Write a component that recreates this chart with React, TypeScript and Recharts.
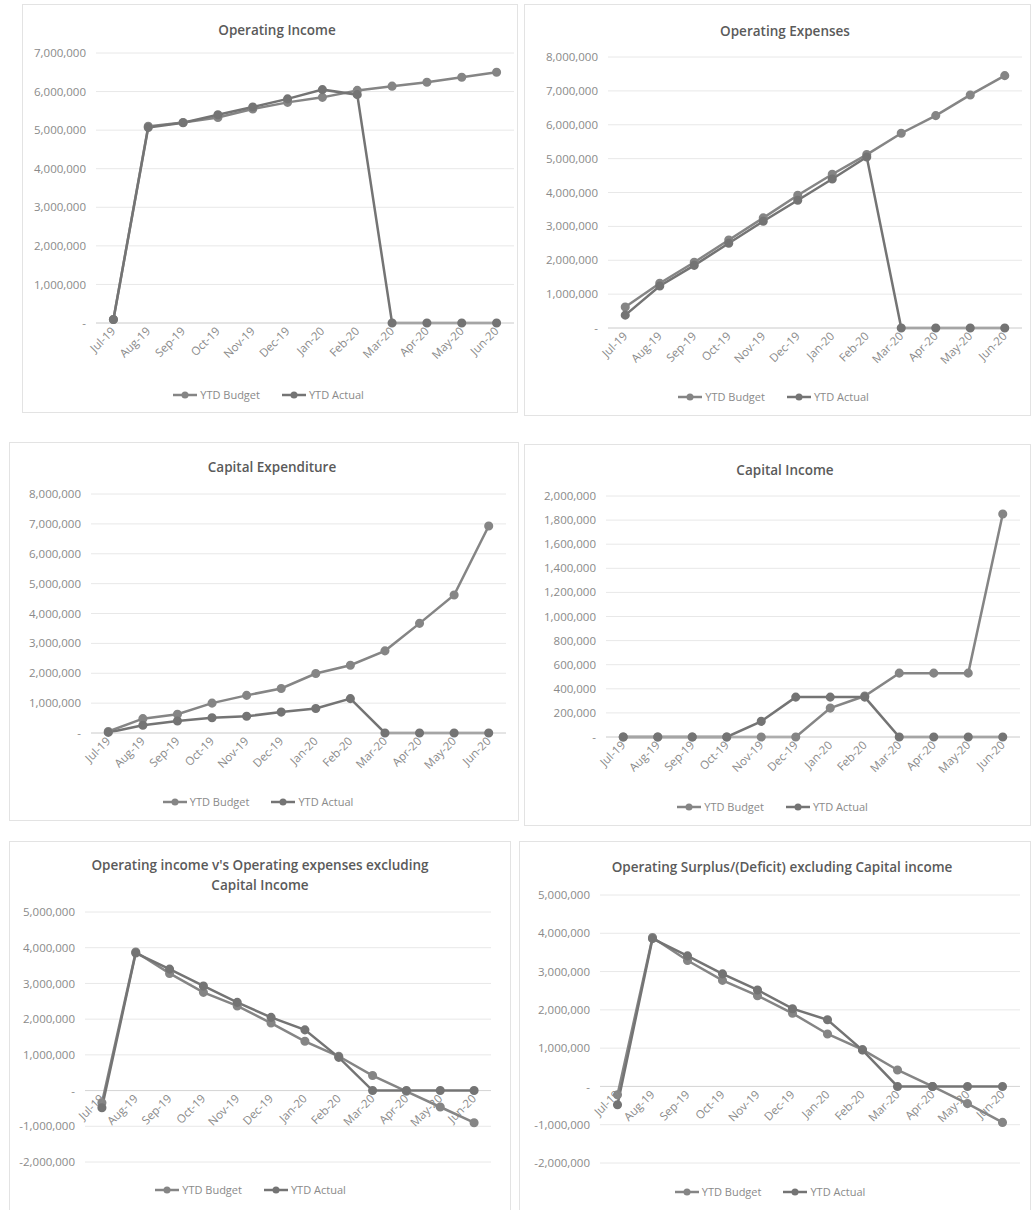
import React from 'react'
import { LineChart, Line, XAxis, YAxis, CartesianGrid, Legend, ReferenceLine } from 'recharts'

const months = ['Jul-19', 'Aug-19', 'Sep-19', 'Oct-19', 'Nov-19', 'Dec-19', 'Jan-20', 'Feb-20', 'Mar-20', 'Apr-20', 'May-20', 'Jun-20']

const opIncomeBudget = [90000, 5100000, 5200000, 5330000, 5550000, 5720000, 5850000, 6030000, 6140000, 6240000, 6370000, 6500000]
const opIncomeActual = [90000, 5070000, 5190000, 5400000, 5600000, 5810000, 6050000, 5920000, 0, 0, 0, 0]

const opExpBudget = [620000, 1320000, 1940000, 2600000, 3250000, 3920000, 4540000, 5120000, 5750000, 6270000, 6880000, 7450000]
const opExpActual = [380000, 1240000, 1850000, 2500000, 3150000, 3770000, 4400000, 5050000, 0, 0, 0, 0]

const capExBudget = [50000, 480000, 630000, 1000000, 1260000, 1490000, 1990000, 2270000, 2750000, 3670000, 4620000, 6930000]
const capExActual = [20000, 260000, 400000, 510000, 560000, 700000, 820000, 1150000, 0, 0, 0, 0]

const capIncBudget = [0, 0, 0, 0, 0, 0, 240000, 340000, 530000, 530000, 530000, 1850000]
const capIncActual = [0, 0, 0, 0, 130000, 331000, 331000, 331000, 0, 0, 0, 0]

const opVsBudget = [-340000, 3880000, 3280000, 2750000, 2370000, 1890000, 1380000, 960000, 420000, -20000, -460000, -900000]
const opVsActual = [-480000, 3850000, 3400000, 2930000, 2470000, 2050000, 1700000, 930000, 0, 0, 0, 0]

const surplusBudget = [-220000, 3890000, 3290000, 2770000, 2370000, 1910000, 1370000, 960000, 430000, 0, -450000, -940000]
const surplusActual = [-480000, 3860000, 3410000, 2940000, 2520000, 2030000, 1740000, 950000, 0, 0, 0, 0]

const ticks7M = [0, 1000000, 2000000, 3000000, 4000000, 5000000, 6000000, 7000000]
const ticks8M = [0, 1000000, 2000000, 3000000, 4000000, 5000000, 6000000, 7000000, 8000000]
const ticks2M = [0, 200000, 400000, 600000, 800000, 1000000, 1200000, 1400000, 1600000, 1800000, 2000000]
const ticksNeg = [-2000000, -1000000, 0, 1000000, 2000000, 3000000, 4000000, 5000000]

const BUDGET = '#858585'
const ACTUAL = '#747474'
const TEXT = '#8a8a8a'

const fmt = (v: number) => (v === 0 ? '-' : v.toLocaleString('en-US'))

type Box = { x: number; y: number; w: number; h: number }
type Plot = { l: number; r: number; t: number; b: number }

function MonthTick(props: any) {
  const { x, y, payload, shift } = props
  return (
    <g transform={`translate(${x},${y - shift})`}>
      <text x={0} y={0} dy={4} textAnchor="end" fill={TEXT} fontSize={11.5} transform="rotate(-45)">
        {payload.value}
      </text>
    </g>
  )
}

// legend in Excel style: line with a filled marker, series in plotting order
function ExcelLegend(props: any) {
  const items = [...(props.payload || [])].sort((a: any, b: any) =>
    a.value === 'YTD Budget' ? -1 : b.value === 'YTD Budget' ? 1 : 0,
  )
  return (
    <div style={{ display: 'flex', justifyContent: 'center', gap: 22, fontSize: 11, lineHeight: '16px', color: TEXT }}>
      {items.map((it: any) => (
        <span key={it.value} style={{ display: 'inline-flex', alignItems: 'center', gap: 3 }}>
          <svg width={24} height={10}>
            <line x1={0} y1={5} x2={24} y2={5} stroke={it.color} strokeWidth={2.5} />
            <circle cx={12} cy={5} r={3.5} fill={it.color} />
          </svg>
          {it.value}
        </span>
      ))}
    </div>
  )
}

interface PanelProps {
  box: Box
  plot: Plot
  title: string[]
  titleX: number
  titleY: number
  legendY: number
  budget: number[]
  actual: number[]
  domain: [number, number]
  ticks: number[]
}

function Panel({ box, plot, title, titleX, titleY, legendY, budget, actual, domain, ticks }: PanelProps) {
  const legendH = 16
  const top = plot.t - box.y
  const right = box.x + box.w - plot.r
  const yAxisW = plot.l - box.x
  const bottom = box.h - (legendY - box.y) - legendH / 2
  const xAxisH = box.y + box.h - plot.b - bottom - legendH
  const shift = domain[0] < 0 ? ((plot.b - plot.t) * -domain[0]) / (domain[1] - domain[0]) : 0
  const half = (plot.r - plot.l) / months.length / 2
  const data = months.map((m, i) => ({ month: m, budget: budget[i], actual: actual[i] }))

  return (
    <>
      <div
        style={{
          position: 'absolute',
          left: box.x,
          top: box.y,
          width: box.w,
          height: box.h,
          outline: '1px solid #e3e3e3',
        }}
      >
        <LineChart width={box.w} height={box.h} data={data} margin={{ top, right, left: 0, bottom }}>
          <CartesianGrid vertical={false} stroke="#e8e8e8" />
          <XAxis
            dataKey="month"
            interval={0}
            height={xAxisH}
            padding={{ left: half, right: half }}
            axisLine={domain[0] < 0 ? false : { stroke: '#d6d6d6' }}
            tickLine={false}
            tickSize={0}
            tickMargin={6}
            tick={(p: any) => <MonthTick {...p} shift={shift} />}
          />
          <YAxis
            width={yAxisW}
            domain={domain}
            ticks={ticks}
            interval={0}
            axisLine={false}
            tickLine={false}
            tickSize={0}
            tickMargin={10}
            tickFormatter={fmt}
            tick={{ fill: TEXT, fontSize: 11.5 }}
          />
          {domain[0] < 0 && <ReferenceLine y={0} stroke="#d6d6d6" />}
          <Legend verticalAlign="bottom" align="center" height={legendH} content={<ExcelLegend />} />
          <Line
            dataKey="budget"
            name="YTD Budget"
            stroke={BUDGET}
            strokeWidth={2.5}
            dot={{ r: 3.3, fill: BUDGET, stroke: BUDGET }}
            isAnimationActive={false}
          />
          <Line
            dataKey="actual"
            name="YTD Actual"
            stroke={ACTUAL}
            strokeWidth={2.5}
            dot={{ r: 3.3, fill: ACTUAL, stroke: ACTUAL }}
            isAnimationActive={false}
          />
        </LineChart>
      </div>
      <div
        style={{
          position: 'absolute',
          left: titleX - 300,
          top: titleY - 10,
          width: 600,
          textAlign: 'center',
          fontSize: 13.5,
          fontWeight: 600,
          lineHeight: '20px',
          color: '#5a5a5a',
        }}
      >
        {title.map((t) => (
          <div key={t}>{t}</div>
        ))}
      </div>
    </>
  )
}

export default function App() {
  return (
    <div
      style={{
        position: 'absolute',
        left: 0,
        top: 0,
        width: 1034,
        height: 1210,
        background: '#fff',
        overflow: 'hidden',
        fontFamily: "'Open Sans', sans-serif",
      }}
    >
      <Panel
        box={{ x: 23, y: 5, w: 494, h: 407 }}
        plot={{ l: 96, r: 514, t: 53, b: 323 }}
        title={['Operating Income']}
        titleX={277}
        titleY={30}
        legendY={395}
        budget={opIncomeBudget}
        actual={opIncomeActual}
        domain={[0, 7000000]}
        ticks={ticks7M}
      />
      <Panel
        box={{ x: 525, y: 5, w: 505, h: 410 }}
        plot={{ l: 608, r: 1022, t: 57, b: 328 }}
        title={['Operating Expenses']}
        titleX={785}
        titleY={31}
        legendY={397}
        budget={opExpBudget}
        actual={opExpActual}
        domain={[0, 8000000]}
        ticks={ticks8M}
      />
      <Panel
        box={{ x: 10, y: 443, w: 508, h: 377 }}
        plot={{ l: 91, r: 506, t: 494, b: 733 }}
        title={['Capital Expenditure']}
        titleX={272}
        titleY={467}
        legendY={802}
        budget={capExBudget}
        actual={capExActual}
        domain={[0, 8000000]}
        ticks={ticks8M}
      />
      <Panel
        box={{ x: 525, y: 445, w: 505, h: 380 }}
        plot={{ l: 606, r: 1020, t: 496, b: 737 }}
        title={['Capital Income']}
        titleX={785}
        titleY={470}
        legendY={807}
        budget={capIncBudget}
        actual={capIncActual}
        domain={[0, 2000000]}
        ticks={ticks2M}
      />
      <Panel
        box={{ x: 10, y: 842, w: 500, h: 368 }}
        plot={{ l: 85, r: 491, t: 912, b: 1162 }}
        title={["Operating income v's Operating expenses excluding", 'Capital Income']}
        titleX={260}
        titleY={865}
        legendY={1190}
        budget={opVsBudget}
        actual={opVsActual}
        domain={[-2000000, 5000000]}
        ticks={ticksNeg}
      />
      <Panel
        box={{ x: 520, y: 842, w: 510, h: 368 }}
        plot={{ l: 600, r: 1020, t: 895, b: 1163 }}
        title={['Operating Surplus/(Deficit) excluding Capital income']}
        titleX={782}
        titleY={867}
        legendY={1192}
        budget={surplusBudget}
        actual={surplusActual}
        domain={[-2000000, 5000000]}
        ticks={ticksNeg}
      />
    </div>
  )
}
